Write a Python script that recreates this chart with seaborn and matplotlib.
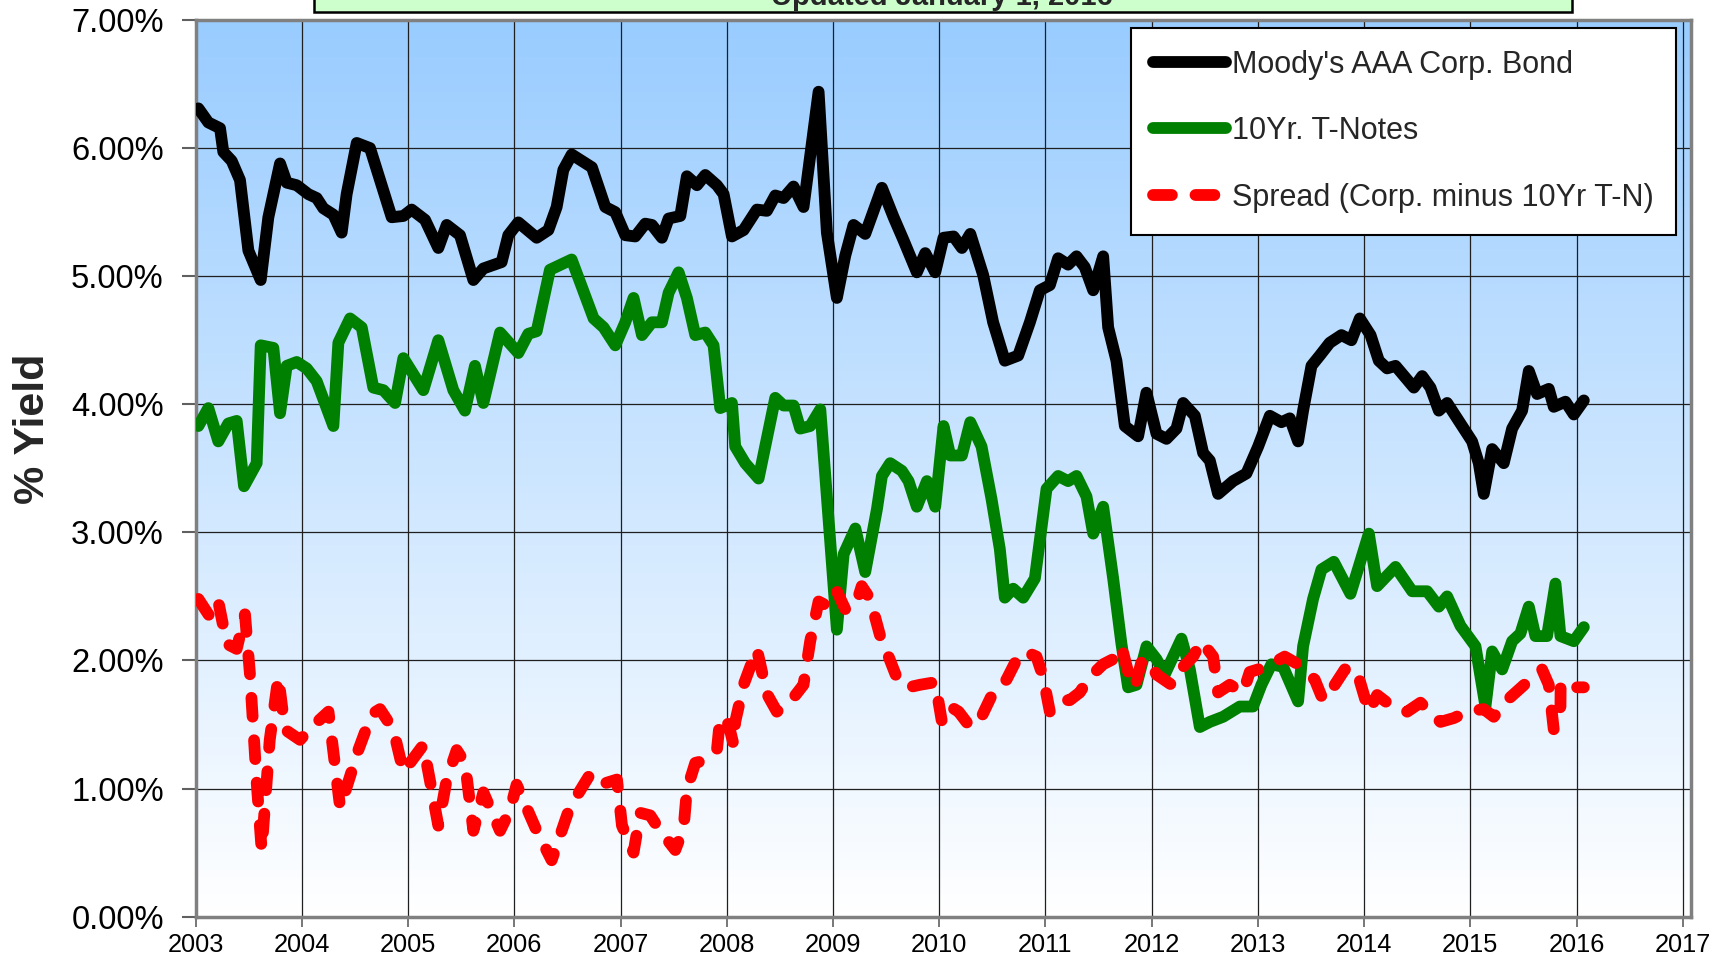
import numpy as np
import pandas as pd
import matplotlib
matplotlib.use("Agg")
import matplotlib.pyplot as plt
import seaborn as sns
from matplotlib.patches import Rectangle
from matplotlib.colors import LinearSegmentedColormap

# ---------------- data (decimal year, % yield) ----------------
aaa_x = [2003.025, 2003.119, 2003.229, 2003.26, 2003.339, 2003.417, 2003.496, 2003.612, 2003.684, 2003.794,
         2003.857, 2003.951, 2004.061, 2004.139, 2004.202, 2004.296, 2004.374, 2004.421, 2004.516, 2004.641,
         2004.751, 2004.845, 2004.955, 2005.033, 2005.159, 2005.284, 2005.363, 2005.488, 2005.614, 2005.708,
         2005.880, 2005.943, 2006.037, 2006.21, 2006.32, 2006.398, 2006.461, 2006.54, 2006.73, 2006.856,
         2006.95, 2007.044, 2007.138, 2007.232, 2007.295, 2007.389, 2007.452, 2007.562, 2007.624, 2007.719,
         2007.797, 2007.907, 2007.97, 2008.048, 2008.158, 2008.283, 2008.377, 2008.456, 2008.534, 2008.628,
         2008.722, 2008.864, 2008.942, 2009.036, 2009.115, 2009.193, 2009.303, 2009.46, 2009.57, 2009.664,
         2009.789, 2009.868, 2009.962, 2010.04, 2010.135, 2010.213, 2010.292, 2010.413, 2010.507, 2010.617,
         2010.743, 2010.853, 2010.947, 2011.041, 2011.119, 2011.213, 2011.292, 2011.37, 2011.449, 2011.543,
         2011.59, 2011.668, 2011.747, 2011.872, 2011.95, 2012.045, 2012.139, 2012.233, 2012.296, 2012.406,
         2012.484, 2012.547, 2012.625, 2012.766, 2012.892, 2013.002, 2013.112, 2013.221, 2013.3, 2013.378,
         2013.425, 2013.504, 2013.582, 2013.676, 2013.786, 2013.88, 2013.959, 2014.06, 2014.138, 2014.216,
         2014.295, 2014.468, 2014.546, 2014.624, 2014.703, 2014.781, 2014.922, 2015.016, 2015.079, 2015.126,
         2015.205, 2015.314, 2015.393, 2015.487, 2015.55, 2015.628, 2015.738, 2015.785, 2015.895, 2015.974,
         2016.068]
aaa_y = [6.31, 6.20, 6.155, 5.97, 5.90, 5.75, 5.20, 4.97, 5.46, 5.88,
         5.73, 5.71, 5.64, 5.61, 5.53, 5.48, 5.34, 5.64, 6.04, 6.00,
         5.71, 5.46, 5.47, 5.52, 5.44, 5.22, 5.40, 5.32, 4.97, 5.06,
         5.11, 5.32, 5.42, 5.30, 5.36, 5.54, 5.83, 5.95, 5.85, 5.54,
         5.50, 5.32, 5.31, 5.41, 5.40, 5.30, 5.45, 5.47, 5.78, 5.71,
         5.79, 5.71, 5.64, 5.31, 5.36, 5.52, 5.51, 5.63, 5.61, 5.70,
         5.54, 6.44, 5.34, 4.83, 5.16, 5.40, 5.33, 5.69, 5.46, 5.28,
         5.03, 5.18, 5.03, 5.30, 5.31, 5.22, 5.33, 5.01, 4.64, 4.34,
         4.38, 4.64, 4.89, 4.93, 5.14, 5.09, 5.155, 5.07, 4.89, 5.155,
         4.60, 4.34, 3.83, 3.75, 4.09, 3.77, 3.73, 3.81, 4.01, 3.91,
         3.62, 3.56, 3.30, 3.40, 3.46, 3.67, 3.91, 3.86, 3.89, 3.71,
         3.95, 4.30, 4.38, 4.48, 4.54, 4.50, 4.67, 4.54, 4.34, 4.28,
         4.30, 4.13, 4.22, 4.13, 3.95, 4.01, 3.83, 3.71, 3.54, 3.30,
         3.65, 3.54, 3.81, 3.95, 4.26, 4.08, 4.12, 3.98, 4.02, 3.92,
         4.03]

tn_x = [2003.025, 2003.119, 2003.213, 2003.307, 2003.386, 2003.455, 2003.574, 2003.612, 2003.731, 2003.794,
        2003.857, 2003.951, 2004.045, 2004.139, 2004.296, 2004.343, 2004.453, 2004.563, 2004.672, 2004.767,
        2004.877, 2004.955, 2005.143, 2005.284, 2005.425, 2005.535, 2005.629, 2005.708, 2005.865, 2006.037,
        2006.131, 2006.21, 2006.335, 2006.539, 2006.683, 2006.746, 2006.84, 2006.95, 2007.044, 2007.122,
        2007.201, 2007.295, 2007.389, 2007.452, 2007.546, 2007.624, 2007.703, 2007.797, 2007.875, 2007.938,
        2008.048, 2008.079, 2008.173, 2008.299, 2008.456, 2008.534, 2008.628, 2008.691, 2008.785, 2008.88,
        2009.036, 2009.1, 2009.21, 2009.303, 2009.413, 2009.46, 2009.538, 2009.648, 2009.711, 2009.789,
        2009.884, 2009.962, 2010.04, 2010.103, 2010.213, 2010.292, 2010.398, 2010.492, 2010.57, 2010.617,
        2010.696, 2010.79, 2010.9, 2011.01, 2011.119, 2011.213, 2011.292, 2011.386, 2011.449, 2011.543,
        2011.637, 2011.715, 2011.778, 2011.857, 2011.951, 2012.045, 2012.123, 2012.202, 2012.28, 2012.359,
        2012.453, 2012.547, 2012.672, 2012.829, 2012.954, 2013.033, 2013.127, 2013.237, 2013.378, 2013.425,
        2013.519, 2013.598, 2013.714, 2013.871, 2014.044, 2014.122, 2014.295, 2014.452, 2014.593, 2014.703,
        2014.781, 2014.907, 2015.048, 2015.142, 2015.205, 2015.299, 2015.393, 2015.471, 2015.55, 2015.612,
        2015.722, 2015.801, 2015.848, 2015.974, 2016.068]
tn_y = [3.83, 3.97, 3.71, 3.85, 3.87, 3.36, 3.54, 4.46, 4.44, 3.93,
        4.30, 4.33, 4.28, 4.18, 3.83, 4.48, 4.67, 4.60, 4.13, 4.11,
        4.01, 4.36, 4.11, 4.50, 4.11, 3.95, 4.30, 4.01, 4.56, 4.40,
        4.55, 4.57, 5.05, 5.13, 4.81, 4.67, 4.60, 4.46, 4.64, 4.83,
        4.54, 4.64, 4.64, 4.87, 5.03, 4.83, 4.54, 4.56, 4.46, 3.97,
        4.01, 3.67, 3.54, 3.42, 4.05, 3.99, 3.99, 3.81, 3.83, 3.96,
        2.24, 2.83, 3.03, 2.69, 3.18, 3.44, 3.54, 3.48, 3.40, 3.20,
        3.40, 3.20, 3.83, 3.60, 3.60, 3.86, 3.67, 3.26, 2.87, 2.49,
        2.56, 2.49, 2.64, 3.34, 3.44, 3.40, 3.44, 3.28, 2.99, 3.20,
        2.64, 2.13, 1.79, 1.81, 2.11, 2.01, 1.89, 2.03, 2.17, 1.93,
        1.48, 1.52, 1.56, 1.64, 1.64, 1.81, 1.97, 1.95, 1.68, 2.11,
        2.48, 2.71, 2.77, 2.52, 2.99, 2.58, 2.73, 2.54, 2.54, 2.42,
        2.50, 2.27, 2.11, 1.64, 2.07, 1.93, 2.15, 2.21, 2.42, 2.19,
        2.19, 2.60, 2.19, 2.15, 2.26]

sp_x = [2003.025, 2003.135, 2003.213, 2003.292, 2003.386, 2003.464, 2003.511, 2003.574, 2003.621, 2003.697,
        2003.778, 2003.84, 2003.982, 2004.092, 2004.25, 2004.36, 2004.531, 2004.656, 2004.735, 2004.861,
        2004.955, 2005.143, 2005.284, 2005.363, 2005.457, 2005.535, 2005.614, 2005.708, 2005.865, 2005.959,
        2006.021, 2006.21, 2006.351, 2006.52, 2006.712, 2006.81, 2006.966, 2007.013, 2007.122, 2007.185,
        2007.279, 2007.373, 2007.515, 2007.593, 2007.624, 2007.703, 2007.797, 2007.907, 2007.938, 2008.017,
        2008.064, 2008.079, 2008.158, 2008.283, 2008.377, 2008.471, 2008.628, 2008.722, 2008.785, 2008.864,
        2008.958, 2009.036, 2009.115, 2009.21, 2009.27, 2009.35, 2009.444, 2009.523, 2009.617, 2009.711,
        2009.82, 2009.962, 2010.025, 2010.103, 2010.182, 2010.292, 2010.398, 2010.507, 2010.633, 2010.743,
        2010.806, 2010.915, 2010.978, 2011.041, 2011.135, 2011.229, 2011.323, 2011.417, 2011.543, 2011.637,
        2011.715, 2011.778, 2011.841, 2011.904, 2011.967, 2012.045, 2012.186, 2012.296, 2012.39, 2012.468,
        2012.578, 2012.625, 2012.735, 2012.861, 2012.923, 2013.08, 2013.252, 2013.378, 2013.535, 2013.613,
        2013.708, 2013.818, 2013.927, 2014.044, 2014.122, 2014.248, 2014.405, 2014.53, 2014.719, 2014.844,
        2014.97, 2015.126, 2015.22, 2015.346, 2015.534, 2015.675, 2015.738, 2015.785, 2015.848, 2015.85,
        2015.974, 2016.068]
sp_y = [2.48, 2.34, 2.46, 2.13, 2.09, 2.36, 1.89, 1.05, 0.52, 1.38,
        1.87, 1.46, 1.38, 1.48, 1.60, 0.85, 1.30, 1.58, 1.62, 1.46,
        1.13, 1.34, 0.71, 1.07, 1.30, 1.20, 0.67, 0.97, 0.67, 0.83,
        1.03, 0.67, 0.44, 0.85, 1.11, 1.03, 1.07, 0.71, 0.50, 0.81,
        0.79, 0.67, 0.52, 0.69, 0.99, 1.20, 1.22, 1.30, 1.56, 1.50,
        1.34, 1.52, 1.81, 2.09, 1.74, 1.60, 1.71, 1.81, 2.15, 2.46,
        2.42, 2.54, 2.40, 2.42, 2.58, 2.48, 2.19, 2.03, 1.83, 1.79,
        1.81, 1.83, 1.52, 1.64, 1.60, 1.48, 1.56, 1.75, 1.85, 2.03,
        2.07, 2.03, 1.87, 1.60, 1.69, 1.69, 1.75, 1.87, 1.97, 2.01,
        2.11, 1.91, 1.79, 1.99, 2.01, 1.89, 1.81, 1.95, 2.03, 2.15,
        2.03, 1.75, 1.81, 1.75, 1.91, 1.95, 2.03, 1.97, 1.85, 1.69,
        1.79, 1.93, 1.93, 1.60, 1.73, 1.65, 1.60, 1.67, 1.52, 1.55,
        1.60, 1.62, 1.56, 1.69, 1.83, 1.93, 1.81, 1.46, 1.64, 1.83,
        1.79, 1.79]

series_labels = ["Moody's AAA Corp. Bond", "10Yr. T-Notes", "Spread (Corp. minus 10Yr T-N)"]
series_colors = ["#000000", "#008000", "#FF0000"]
year_ticks = list(range(2003, 2018))
year_labels = [str(y) for y in year_ticks]
pct_ticks = list(range(0, 8))
pct_labels = [f"{v:.2f}%" for v in pct_ticks]
title_text = "Updated January 1, 2016"
y_label = "% Yield"

# ---------------- figure ----------------
sns.set_theme(style="white")
plt.rcParams['font.family'] = ['Liberation Sans', 'DejaVu Sans']

W, H = 1726, 961
fig = plt.figure(figsize=(W / 100, H / 100), dpi=100)
fig.patch.set_facecolor('white')

L, R, T, B = 195.7, 1690.8, 20.0, 916.6
ax = fig.add_axes([L / W, 1 - B / H, (R - L) / W, (B - T) / H])

x_min, x_max = 2003, 2017.075
grad = np.linspace(0, 1, 256).reshape(-1, 1)
cmap = LinearSegmentedColormap.from_list('bg', ['#99CCFF', '#FFFFFF'])
ax.imshow(grad, cmap=cmap, aspect='auto', extent=[x_min, x_max, 0, 7],
          origin='upper', zorder=-1, interpolation='bilinear')

LW = 8.5
common = dict(ax=ax, estimator=None, sort=False, linewidth=LW, zorder=3)
df_a = pd.DataFrame({"x": aaa_x, "y": aaa_y})
df_t = pd.DataFrame({"x": tn_x, "y": tn_y})
df_s = pd.DataFrame({"x": sp_x, "y": sp_y})
sns.lineplot(data=df_a, x="x", y="y", color=series_colors[0], label=series_labels[0],
             solid_capstyle='round', solid_joinstyle='round', **common)
sns.lineplot(data=df_t, x="x", y="y", color=series_colors[1], label=series_labels[1],
             solid_capstyle='round', solid_joinstyle='round', **common)
sns.lineplot(data=df_s, x="x", y="y", color=series_colors[2], label=series_labels[2],
             linestyle=(0, (1.6, 2.0)), dash_capstyle='round', dash_joinstyle='round', **common)

ax.set_xlim(x_min, x_max)
ax.set_ylim(0, 7)
ax.set_xticks(year_ticks)
ax.set_xticklabels(year_labels)
ax.set_yticks(pct_ticks)
ax.set_yticklabels(pct_labels)
ax.set_xlabel('')
ax.set_ylabel('')

ax.grid(True, color='#1f1f1f', linewidth=0.9)
ax.set_axisbelow(True)
for s in ax.spines.values():
    s.set_visible(True)
    s.set_color('#808080')
    s.set_linewidth(2.5)

ax.tick_params(axis='y', left=True, direction='out', length=10, width=1.5, color='#606060',
               pad=13, labelsize=23.6, labelcolor='black')
ax.tick_params(axis='x', bottom=True, direction='out', length=7, width=1.2, color='#606060',
               pad=5, labelsize=18.3, labelcolor='black')

leg = ax.legend(loc='upper left', bbox_to_anchor=(1131 / W, 1 - 27.5 / H),
                bbox_transform=fig.transFigure, borderaxespad=0,
                fontsize=22, handlelength=2.4, handletextpad=0.2,
                labelspacing=1.2, borderpad=0.72, frameon=True, fancybox=False,
                shadow=False, framealpha=1)
leg.get_frame().set_edgecolor('black')
leg.get_frame().set_linewidth(1.5)
leg.get_frame().set_facecolor('white')
for line in leg.get_lines():
    line.set_linewidth(LW)
    line.set_solid_capstyle('round')
    line.set_dash_capstyle('round')

# title box (partially out of frame at top)
fig.patches.append(Rectangle((314 / W, 1 - 12 / H), (1572 - 314) / W, 0.2,
                             transform=fig.transFigure, facecolor='#CCFFCC',
                             edgecolor='black', linewidth=1.8, zorder=5))
fig.text(942 / W, 1 - 5 / H, title_text, ha='center', va='baseline',
         fontsize=21, fontweight='bold', zorder=6)

fig.text(33 / W, 1 - 429 / H, y_label, rotation=90, ha='center', va='center',
         fontsize=31, fontweight='bold')

fig.savefig('out.png', dpi=100)
